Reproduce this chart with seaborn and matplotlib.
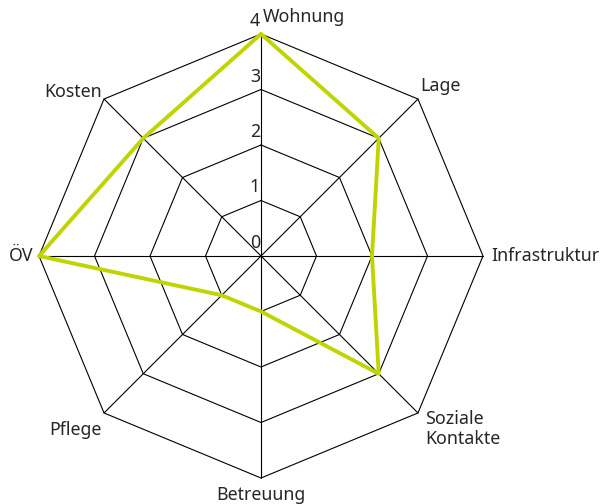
import matplotlib
matplotlib.use("Agg")
import matplotlib.pyplot as plt
import numpy as np
import pandas as pd
import seaborn as sb

categories = ["Wohnung", "Lage", "Infrastruktur", "Soziale\nKontakte", "Betreuung", "Pflege", "ÖV", "Kosten"]
values = [4, 3, 2, 3, 1, 1, 4, 3]
rings = [0, 1, 2, 3, 4]

sb.set_style("white")
plt.rcParams["font.family"] = ["Noto Sans", "DejaVu Sans"]

px = 55.5  # pixel pro Einheit
fig = plt.figure(figsize=(6.03, 5.04), dpi=100)
ax = fig.add_axes([0, 0, 1, 1])

n = len(categories)
ang = np.pi / 2 - np.arange(n) * 2 * np.pi / n

# Gitter (Achteck)
for r in rings[1:]:
    xs = np.append(r * np.cos(ang), r * np.cos(ang[0]))
    ys = np.append(r * np.sin(ang), r * np.sin(ang[0]))
    ax.plot(xs, ys, color="black", lw=0.8, zorder=1)
for a in ang:
    ax.plot([0, 4 * np.cos(a)], [0, 4 * np.sin(a)], color="black", lw=0.8, zorder=1)

# Werte
v = np.array(values, dtype=float)
df = pd.DataFrame({"x": np.append(v * np.cos(ang), v[0] * np.cos(ang[0])),
                   "y": np.append(v * np.sin(ang), v[0] * np.sin(ang[0]))})
sb.lineplot(data=df, x="x", y="y", sort=False, estimator=None, color="#bfd400", lw=2.8, ax=ax, zorder=3)
ax.set_xlim(-261 / px, (603 - 261) / px)
ax.set_ylim(-(504 - 256) / px, 256 / px)
ax.axis("off")

fs = 12.8

# Skalenbeschriftung
for r in rings:
    ax.text(-1 / px, r + 13 / px, str(r), ha="right", va="center", fontsize=fs)

# Kategorien
pos = {
    0: (2 / px, 4 + 17 / px, "left", "center"),
    1: (159 / px, 170 / px, "left", "center"),
    2: (4 + 8 / px, 0, "left", "center"),
    3: (164 / px, -173 / px, "left", "center"),
    4: (0, -4 - 8 / px, "center", "top"),
    5: (-159 / px, -174 / px, "right", "center"),
    6: (-4 - 6 / px, 0, "right", "center"),
    7: (-159 / px, 164 / px, "right", "center"),
}
for i, lab in enumerate(categories):
    x, y, ha, va = pos[i]
    ax.text(x, y, lab, ha=ha, va=va, fontsize=fs, linespacing=1.1)

plt.savefig("out.png", dpi=100)
